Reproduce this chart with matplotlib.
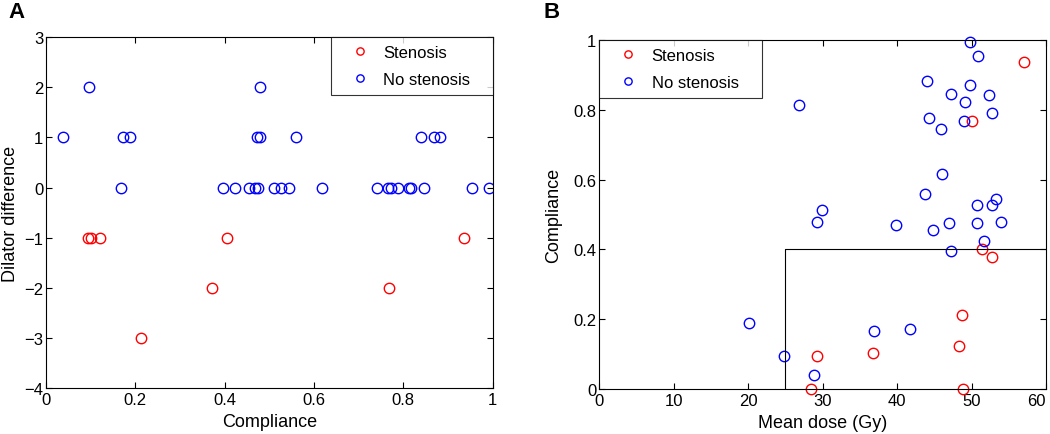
import matplotlib
matplotlib.use("Agg")
import matplotlib.pyplot as plt
from matplotlib.ticker import FuncFormatter

plt.rcParams['font.family'] = ['Liberation Sans', 'DejaVu Sans']

# panel A: compliance vs dilator difference
a_stenosis_x = [0.095, 0.100, 0.122, 0.405, 0.935, 0.212, 0.371, 0.767]
a_stenosis_y = [-1, -1, -1, -1, -1, -3, -2, -2]
a_none_x = [0.039, 0.096, 0.169, 0.172, 0.187,
            0.397, 0.423, 0.454, 0.469, 0.475, 0.511, 0.526, 0.545, 0.617,
            0.742, 0.766, 0.772, 0.789, 0.812, 0.818, 0.846, 0.954, 0.991,
            0.472, 0.480, 0.559, 0.839, 0.869, 0.883, 0.480]
a_none_y = [1, 2, 0, 1, 1,
            0, 0, 0, 0, 0, 0, 0, 0, 0,
            0, 0, 0, 0, 0, 0, 0, 0, 0,
            1, 1, 1, 1, 1, 1, 2]

# panel B: mean dose vs compliance
b_stenosis_x = [57.1, 50.0, 51.4, 52.8, 29.2, 28.4, 36.8, 48.7, 48.3, 48.8]
b_stenosis_y = [0.937, 0.769, 0.402, 0.379, 0.096, 0.0, 0.103, 0.212, 0.124, 0.0]
b_none_x = [49.8, 50.9, 44.0, 49.8, 47.3, 52.4, 49.1, 26.8, 52.7, 44.3,
            49.0, 45.9, 46.0, 43.8, 53.3, 50.8, 52.8, 29.9, 29.3, 39.9,
            44.8, 47.0, 50.8, 53.9, 51.7, 47.2, 20.1, 24.8, 28.9, 36.9, 41.7]
b_none_y = [0.993, 0.955, 0.883, 0.872, 0.845, 0.842, 0.822, 0.813, 0.790, 0.776,
            0.769, 0.745, 0.615, 0.560, 0.545, 0.528, 0.528, 0.513, 0.480, 0.469,
            0.456, 0.475, 0.475, 0.480, 0.424, 0.396, 0.188, 0.096, 0.040, 0.167, 0.173]

# threshold box in B
dose_cut = 25
comp_cut = 0.4


def fmt(v, pos):
    return f"{v:g}".replace("-", "\u2212")


def style(ax):
    ax.tick_params(direction="in", top=True, right=True, length=4,
                   labelsize=12, width=0.8)
    ax.tick_params(axis="x", pad=3)
    ax.tick_params(axis="y", pad=2)
    for s in ax.spines.values():
        s.set_linewidth(0.8)
    ax.xaxis.set_major_formatter(FuncFormatter(fmt))
    ax.yaxis.set_major_formatter(FuncFormatter(fmt))


def legend(ax, x0, w, h):
    leg = ax.legend(loc="upper left", bbox_to_anchor=(x0, 1 - h, w, h),
                    mode="expand", borderaxespad=0, fancybox=False,
                    edgecolor="black", fontsize=12, markerscale=0.7,
                    borderpad=0.45, labelspacing=0.75, handlelength=2.6,
                    handletextpad=0.1)
    leg.get_frame().set_linewidth(0.8)
    return leg


mk = dict(marker="o", linestyle="none", markerfacecolor="none",
          markersize=7.5, markeredgewidth=1.0)

fig = plt.figure(figsize=(10.5, 4.35), dpi=100)
axA = fig.add_axes([0.0438, 0.1057, 0.4254, 0.8063])
axB = fig.add_axes([0.5705, 0.1034, 0.4257, 0.8023])

axA.plot(a_stenosis_x, a_stenosis_y, color="r", label="Stenosis", **mk)
axA.plot(a_none_x, a_none_y, color="b", label="No stenosis", **mk)
axA.set_xlim(0, 1); axA.set_ylim(-4, 3)
axA.set_xticks([0, 0.2, 0.4, 0.6, 0.8, 1])
axA.set_yticks(range(-4, 4))
axA.set_xlabel("Compliance", fontsize=13, labelpad=4)
axA.set_ylabel("Dilator difference", fontsize=13, labelpad=4)
style(axA)
legend(axA, 0.638, 0.362, 0.163)

axB.plot(b_stenosis_x, b_stenosis_y, color="r", label="Stenosis", clip_on=False, **mk)
axB.plot(b_none_x, b_none_y, color="b", label="No stenosis", clip_on=False, **mk)
axB.plot([dose_cut, dose_cut, 60], [0, comp_cut, comp_cut], color="black", lw=0.8)
axB.set_xlim(0, 60); axB.set_ylim(0, 1)
axB.set_xticks(range(0, 70, 10))
axB.set_yticks([0, 0.2, 0.4, 0.6, 0.8, 1])
axB.set_xlabel("Mean dose (Gy)", fontsize=13, labelpad=4)
axB.set_ylabel("Compliance", fontsize=13, labelpad=8)
style(axB)
axB.get_xticklabels()[-1].set_horizontalalignment("right")
legend(axB, 0.0, 0.365, 0.16)

fig.text(0.008, 0.958, "A", fontsize=16, fontweight="bold")
fig.text(0.518, 0.958, "B", fontsize=16, fontweight="bold")

fig.savefig("out.png", dpi=100)
